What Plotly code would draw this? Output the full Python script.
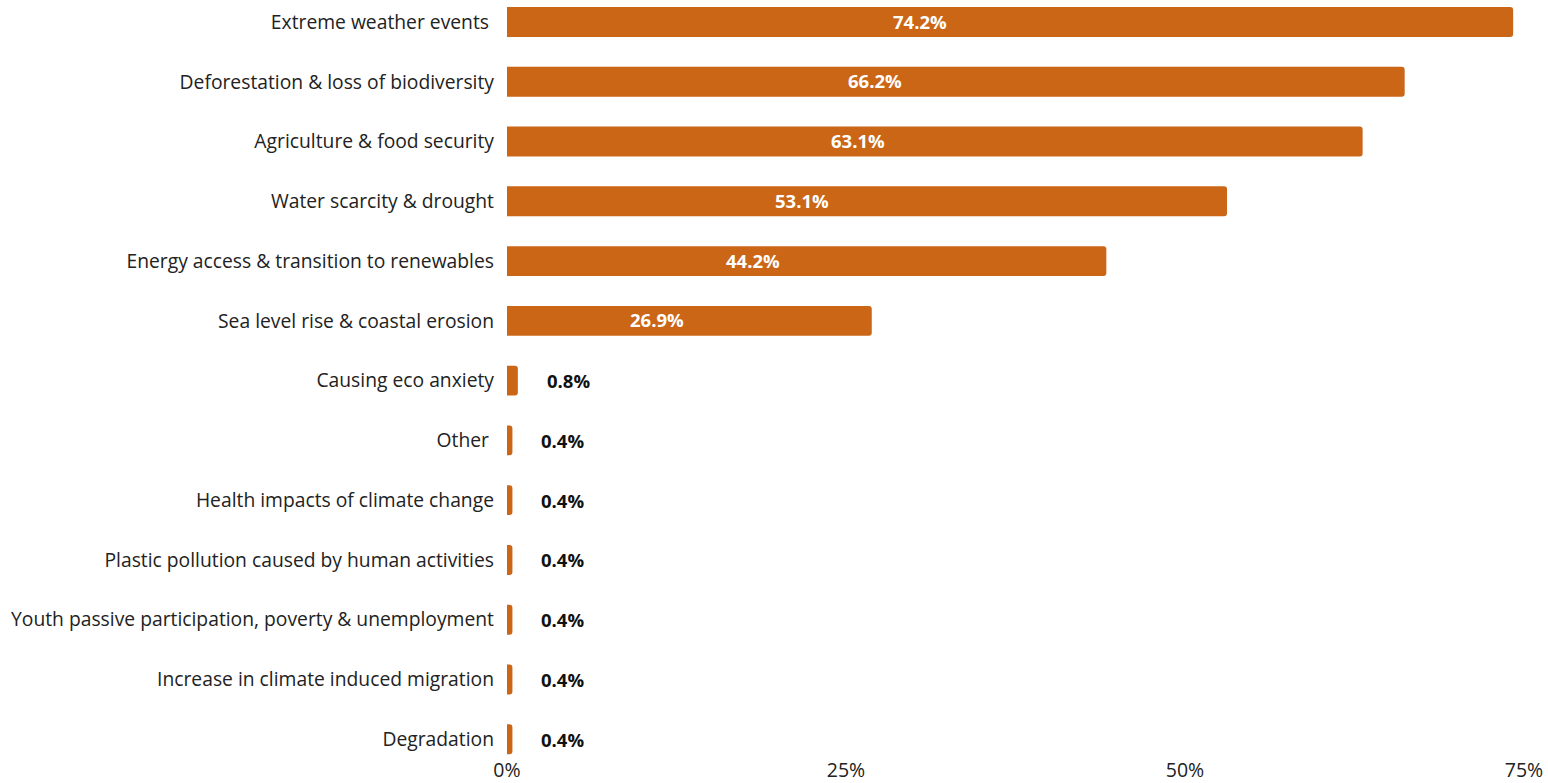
import plotly.graph_objects as go

categories = [
    "Extreme weather events\u00a0",
    "Deforestation & loss of biodiversity",
    "Agriculture & food security",
    "Water scarcity & drought",
    "Energy access & transition to renewables",
    "Sea level rise & coastal erosion",
    "Causing eco anxiety",
    "Other\u00a0",
    "Health impacts of climate change",
    "Plastic pollution caused by human activities",
    "Youth passive participation, poverty & unemployment",
    "Increase in climate induced migration",
    "Degradation",
]
values = [74.2, 66.2, 63.1, 53.1, 44.2, 26.9, 0.8, 0.4, 0.4, 0.4, 0.4, 0.4, 0.4]
tick_vals = [0, 25, 50, 75]
tick_text = ["0%", "25%", "50%", "75%"]

BAR = "#CC6617"
FONT = "Open Sans"

fig = go.Figure(
    go.Bar(
        x=values,
        y=categories,
        orientation="h",
        marker=dict(color=BAR, line=dict(width=0)),
        hoverinfo="skip",
    )
)

# value labels: white inside long bars, dark beside short ones
for cat, v in zip(categories, values):
    if v >= 10:
        fig.add_annotation(
            x=v * 0.41, y=cat, text=f"<b>{v:.1f}%</b>", showarrow=False,
            xanchor="center", yanchor="middle", yshift=1,
            font=dict(family=FONT, size=18.5, color="white"),
        )
    else:
        fig.add_annotation(
            x=v, y=cat, text=f"<b>{v:.1f}%</b>", showarrow=False,
            xanchor="left", yanchor="middle", xshift=27,
            font=dict(family=FONT, size=18.5, color="#111111"),
        )

fig.update_layout(
    width=1548,
    height=783,
    margin=dict(l=507, r=24, t=0, b=27),
    paper_bgcolor="white",
    plot_bgcolor="white",
    bargap=0.5,
    barcornerradius=3,
    showlegend=False,
    font=dict(family=FONT, color="#222222"),
    xaxis=dict(
        range=[0, 75],
        tickvals=tick_vals,
        ticktext=tick_text,
        showgrid=False,
        zeroline=False,
        showline=False,
        automargin=False,
        ticklabelstandoff=0,
        tickfont=dict(family=FONT, size=19.5, color="#222222"),
        fixedrange=True,
    ),
    yaxis=dict(
        categoryorder="array",
        categoryarray=categories,
        range=[12.28, -0.368],
        showgrid=False,
        zeroline=False,
        showline=False,
        automargin=False,
        ticklabelstandoff=12,
        tickfont=dict(family=FONT, size=19.3, color="#222222"),
        fixedrange=True,
    ),
)

fig.write_html("out.html")
